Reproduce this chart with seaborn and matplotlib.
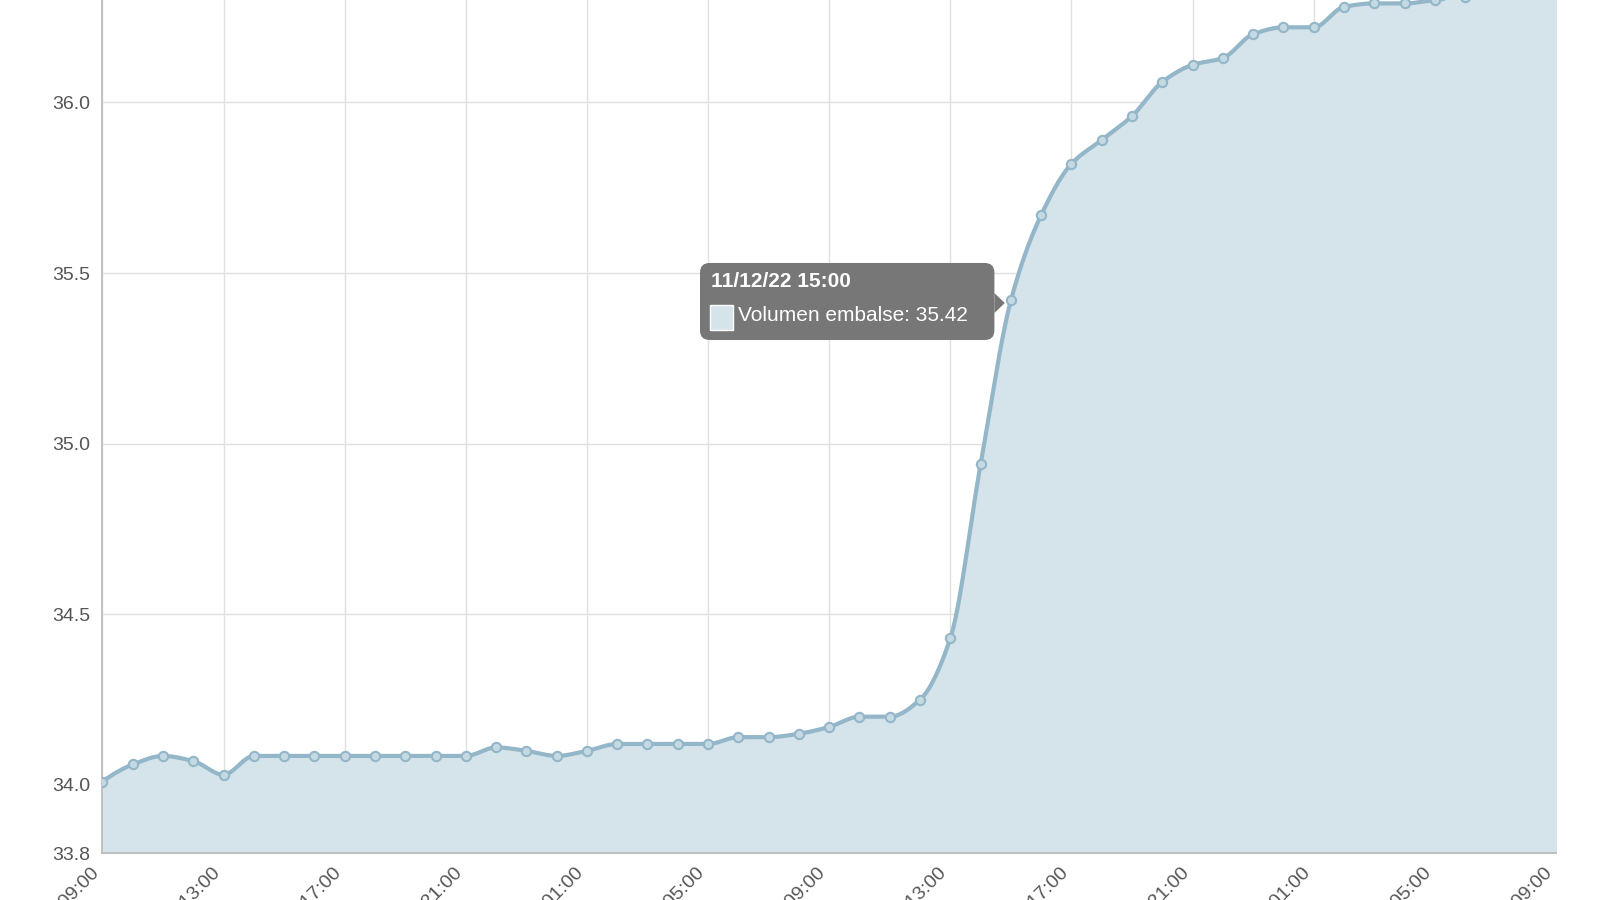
import matplotlib
matplotlib.use("Agg")
import matplotlib.pyplot as plt
import seaborn as sns
import numpy as np
import pandas as pd
from scipy.interpolate import PchipInterpolator
from matplotlib.patches import FancyBboxPatch, Polygon, Rectangle

sns.set_theme(style="whitegrid")
plt.rcParams['font.family'] = ['Liberation Sans', 'DejaVu Sans']

volumen = [34.01, 34.06, 34.085, 34.07, 34.03, 34.085, 34.085, 34.085, 34.085, 34.085,
           34.085, 34.085, 34.085, 34.11, 34.10, 34.085, 34.10, 34.12, 34.12, 34.12,
           34.12, 34.14, 34.14, 34.15, 34.17, 34.20, 34.20, 34.25, 34.43, 34.94,
           35.42, 35.67, 35.82, 35.89, 35.96, 36.06, 36.11, 36.13, 36.20, 36.22,
           36.22, 36.28, 36.29, 36.29, 36.30, 36.31, 36.32, 36.33, 36.34]
hour_labels = ["11/11/22 09:00", "11/11/22 13:00", "11/11/22 17:00", "11/11/22 21:00",
               "12/11/22 01:00", "12/11/22 05:00", "12/11/22 09:00", "12/11/22 13:00",
               "12/11/22 17:00", "12/11/22 21:00", "13/11/22 01:00", "13/11/22 05:00",
               "13/11/22 09:00"]
y_ticks = [33.8, 34.0, 34.5, 35.0, 35.5, 36.0]

x = np.arange(len(volumen))
df = pd.DataFrame({"x": x, "v": volumen})
xs = np.linspace(0, len(volumen) - 1, 800)
ys = PchipInterpolator(x, volumen)(xs)

color = "#93b6c8"
fig = plt.figure(figsize=(16, 9), dpi=100)
ax = fig.add_axes([0.064, 0.052, 0.9085, 0.948])
ax.fill_between(xs, ys, 33.8, color="#d5e3ea", zorder=1)
ax.plot(xs, ys, color=color, lw=3, zorder=2)
sns.scatterplot(data=df, x="x", y="v", ax=ax, s=45, color="#c5d9e3",
                edgecolor=color, linewidth=1.5, zorder=3, legend=False)

ax.set_xlim(0, len(volumen) - 1)
ax.set_ylim(33.8, 36.30)
ax.set_yticks(y_ticks)
ax.set_yticklabels([f"{t:.1f}" for t in y_ticks], fontsize=14, color="#555555")
ax.set_xticks(np.arange(0, len(volumen), 4))
ax.set_xticklabels(hour_labels, rotation=45, ha="right", fontsize=14, color="#555555")
ax.set_xlabel("")
ax.set_ylabel("")
ax.grid(True, color="#e0e0e0", lw=1)
for s in ["top", "right"]:
    ax.spines[s].set_visible(False)
ax.spines["left"].set_color("#bbbbbb")
ax.spines["bottom"].set_color("#bbbbbb")
ax.tick_params(axis="both", length=5, color="#bbbbbb")

# tooltip (figure-fraction coordinates)
tf = fig.transFigure
fig.patches.append(FancyBboxPatch((0.4375, 0.6222), 0.184, 0.0856, transform=tf,
                   boxstyle="round,pad=0,rounding_size=0.006", fc="#777777", ec="none",
                   mutation_aspect=16/9, zorder=5))
fig.patches.append(Polygon([[0.6215, 0.6744], [0.6215, 0.6522], [0.628, 0.6633]],
                   closed=True, transform=tf, fc="#777777", ec="none", zorder=5))
fig.patches.append(Rectangle((0.4440, 0.6333), 0.0144, 0.0278, transform=tf,
                   fc="#d5e3ea", ec="white", lw=1, zorder=6))
fig.text(0.4444, 0.6867, "11/12/22 15:00", fontsize=15, fontweight="bold",
         color="white", va="center", zorder=7)
fig.text(0.4613, 0.6489, "Volumen embalse: 35.42", fontsize=15, color="white",
         va="center", zorder=7)
fig.savefig("out.png", dpi=100)
